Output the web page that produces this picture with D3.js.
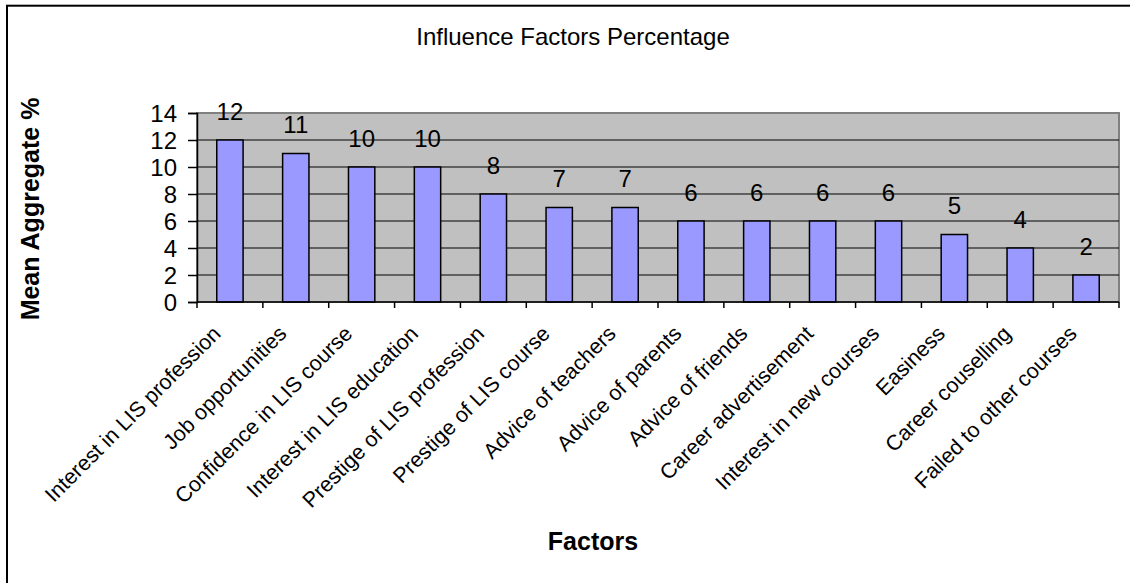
<!DOCTYPE html>
<html>
<head>
<meta charset="utf-8">
<script src="https://cdn.jsdelivr.net/npm/d3@7"></script>
<style>
  body { margin: 0; background: #fff; }
  svg { display: block; }
</style>
</head>
<body>
<div id="chart"></div>
<script>
// chart data
const factors = ["Interest in LIS profession", "Job opportunities", "Confidence in LIS course",
  "Interest in LIS education", "Prestige of LIS profession", "Prestige of LIS course",
  "Advice of teachers", "Advice of parents", "Advice of friends", "Career advertisement",
  "Interest in new courses", "Easiness", "Career couselling", "Failed to other courses"];
const meanAggregate = [12, 11, 10, 10, 8, 7, 7, 6, 6, 6, 6, 5, 4, 2];
const yTicks = [0, 2, 4, 6, 8, 10, 12, 14];

const width = 1130, height = 583;
const font = "'Liberation Sans', Arial, sans-serif";

// plot area
const plotLeft = 197, plotRight = 1119, plotTop = 113, plotBottom = 302;

let svg = d3.select("#chart")
    .append("svg")
    .attr("width", width)
    .attr("height", height);

svg.append("rect")
    .attr("width", width).attr("height", height)
    .attr("fill", "#fff");

// outer chart border (runs off the right and bottom)
svg.append("rect")
    .attr("x", 7).attr("y", 5.7)
    .attr("width", 1140).attr("height", 600)
    .attr("fill", "none")
    .attr("stroke", "#000")
    .attr("stroke-width", 2);

let xScale = d3.scaleBand().domain(factors).range([plotLeft, plotRight]).paddingInner(0.6).paddingOuter(0.3);
let xBand = d3.scaleBand().domain(factors).range([plotLeft, plotRight]);
let yScale = d3.scaleLinear().domain([0, 14]).range([plotBottom, plotTop]);

// plot background
svg.append("rect")
    .attr("x", plotLeft).attr("y", plotTop)
    .attr("width", plotRight - plotLeft).attr("height", plotBottom - plotTop)
    .attr("fill", "#c0c0c0")
    .attr("stroke", "#808080")
    .attr("stroke-width", 2);

// gridlines
svg.append("g")
    .selectAll("line")
    .data(yTicks.filter(d => d > 0 && d < 14))
    .enter().append("line")
    .attr("x1", plotLeft).attr("x2", plotRight)
    .attr("y1", d => yScale(d)).attr("y2", d => yScale(d))
    .attr("stroke", "#000")
    .attr("stroke-width", 1);

// y axis
let yAxis = svg.append("g")
    .attr("transform", "translate(" + plotLeft + ",0)")
    .call(d3.axisLeft(yScale).tickValues(yTicks).tickSize(9).tickPadding(11));
yAxis.select(".domain").attr("stroke", "#000").attr("stroke-width", 1.5);
yAxis.selectAll("line").attr("stroke", "#000").attr("stroke-width", 1.5);
yAxis.selectAll("text")
    .style("font-family", font)
    .style("font-size", "24px")
    .attr("fill", "#000")
    .attr("dy", "0.34em");

// bars
svg.append("g")
    .selectAll("rect")
    .data(meanAggregate)
    .enter().append("rect")
    .attr("x", (d, i) => xScale(factors[i]))
    .attr("y", d => yScale(d))
    .attr("width", xScale.bandwidth())
    .attr("height", d => yScale(0) - yScale(d))
    .attr("fill", "#9999ff")
    .attr("stroke", "#000")
    .attr("stroke-width", 1.5);

// value labels
svg.append("g")
    .selectAll("text")
    .data(meanAggregate)
    .enter().append("text")
    .attr("x", (d, i) => xBand(factors[i]) + xBand.bandwidth() / 2)
    .attr("y", d => yScale(d) - 20.5)
    .attr("text-anchor", "middle")
    .style("font-family", font)
    .style("font-size", "24px")
    .text(d => d);

// x axis
let xAxis = svg.append("g")
    .attr("transform", "translate(0," + plotBottom + ")");
xAxis.append("line")
    .attr("x1", plotLeft).attr("x2", plotRight)
    .attr("stroke", "#000").attr("stroke-width", 1.5);
xAxis.selectAll(".tk")
    .data(factors.concat(["end"]))
    .enter().append("line")
    .attr("class", "tk")
    .attr("x1", (d, i) => i < factors.length ? xBand(d) : plotRight)
    .attr("x2", (d, i) => i < factors.length ? xBand(d) : plotRight)
    .attr("y1", 0).attr("y2", 6)
    .attr("stroke", "#000").attr("stroke-width", 1.5);

// rotated category labels
svg.append("g")
    .selectAll("text")
    .data(factors)
    .enter().append("text")
    .attr("transform", d => "translate(" + (xBand(d) + xBand.bandwidth() / 2 - 8) + "," + 335 + ") rotate(-45)")
    .attr("text-anchor", "end")
    .style("font-family", font)
    .style("font-size", "21.5px")
    .text(d => d);

// titles
svg.append("text")
    .attr("x", 573).attr("y", 44.5)
    .attr("text-anchor", "middle")
    .style("font-family", font)
    .style("font-size", "24px")
    .text("Influence Factors Percentage");

svg.append("text")
    .attr("x", 593).attr("y", 550)
    .attr("text-anchor", "middle")
    .style("font-family", font)
    .style("font-size", "25px")
    .style("font-weight", "bold")
    .text("Factors");

svg.append("text")
    .attr("transform", "translate(39,209) rotate(-90)")
    .attr("text-anchor", "middle")
    .style("font-family", font)
    .style("font-size", "25px")
    .style("font-weight", "bold")
    .text("Mean Aggregate %");
</script>
</body>
</html>
